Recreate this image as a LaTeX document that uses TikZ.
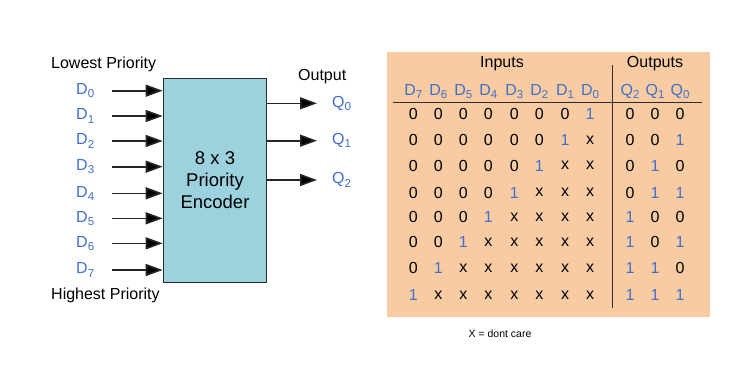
\documentclass[tikz,border=0pt]{standalone}
\usepackage{fontspec}
\setmainfont{Liberation Sans}
\usetikzlibrary{arrows.meta}
\definecolor{lblue}{RGB}{64,112,200}
\definecolor{boxfill}{RGB}{155,210,222}
\definecolor{tabfill}{RGB}{248,203,163}
\definecolor{lgray}{RGB}{45,45,45}
\newcommand\lsub[1]{\raisebox{-0.4ex}{\fontsize{11.5}{11}\selectfont #1}}
\begin{document}
\begin{tikzpicture}[x=1pt,y=-1pt,
  lab/.style={inner sep=0pt,font=\fontsize{16}{18}\selectfont},
  sig/.style={lab,text=lblue},
  arr/.style={line width=1.6pt,draw=black!85,-{Triangle[length=17pt,width=12pt,fill=black]}},
  cell/.style={inner sep=0pt,font=\fontsize{16}{18}\selectfont},
  cell0/.style={cell},
  cellx/.style={cell},
  cell1/.style={cell,text=lblue},
  hdr/.style={cell,text=lblue}]
\useasboundingbox (0,0) rectangle (744,369);
% encoder block
\node[draw=lgray,line width=1.3pt,fill=boxfill,minimum width=103.4pt,minimum height=204pt,inner sep=0pt,
  align=center,font=\fontsize{18.5}{22}\selectfont] (enc) at (215,180.3) {8 x 3\\Priority\\Encoder};
\node[lab,anchor=west] (low) at (51,64) {Lowest Priority};
\node[lab,anchor=west] (high) at (51,295) {Highest Priority};
\node[lab,anchor=west] (out) at (298,77) {Output};
\foreach \i/\y in {0/90.7,1/116,2/141,3/166.7,4/193.3,5/218.3,6/243.3,7/270}{
  \node[sig,anchor=west] (d\i) at (76,\y) {D\lsub{\i}};
  \coordinate (ds\i) at (112,\y);
  \draw[arr] (ds\i) -- (ds\i -| enc.west);
}
\foreach \i/\y in {0/103.3,1/140.7,2/180}{
  \node[sig,anchor=west] (q\i) at (332,\y) {Q\lsub{\i}};
  \coordinate (qe\i) at (317,\y);
  \draw[arr] (qe\i -| enc.east) -- (qe\i);
}
% truth table
\node[fill=tabfill,minimum width=323pt,minimum height=264pt,inner sep=0pt] (tab) at (548.5,184.5) {};
\node[cell] (inputs) at (502,64) {Inputs};
\node[cell] (outputs) at (655,64) {Outputs};
\foreach \n/\x in {7/413.3,6/438.3,5/463.3,4/488.3,3/514.3,2/539.3,1/565,0/590}{
  \node[hdr] (hd\n) at (\x,91.7) {D\lsub{\n}};
}
\foreach \n/\x in {2/630,1/655,0/680}{
  \node[hdr] (hq\n) at (\x,91.7) {Q\lsub{\n}};
}
\coordinate (hl) at (393,102.7);
\coordinate (hr) at (702,102.7);
\draw[lgray,line width=1.3pt] (hl) -- (hr);
\coordinate (vt) at (612.7,65);
\coordinate (vb) at (612.7,308.3);
\draw[lgray,line width=1.3pt] (vt) -- (vb);
\def\colxs{{413.3,438.3,463.3,488.3,514.3,539.3,565,590,630,655,680}}
\def\rowys{{113.5,140,165.5,192.5,217,242,268.3,295}}
\foreach \row [count=\r] in {
  {0,0,0,0,0,0,0,1,0,0,0},
  {0,0,0,0,0,0,1,x,0,0,1},
  {0,0,0,0,0,1,x,x,0,1,0},
  {0,0,0,0,1,x,x,x,0,1,1},
  {0,0,0,1,x,x,x,x,1,0,0},
  {0,0,1,x,x,x,x,x,1,0,1},
  {0,1,x,x,x,x,x,x,1,1,0},
  {1,x,x,x,x,x,x,x,1,1,1}}{
  \pgfmathsetmacro\yy{\rowys[\r-1]}
  \foreach \v [count=\c] in \row {
    \pgfmathsetmacro\xx{\colxs[\c-1]}
    \node[cell\v] (t-\r-\c) at (\xx,\yy) {\v};
  }
}
\node[inner sep=0pt,font=\fontsize{10.5}{11}\selectfont] (note) at (500,333.3) {X = dont care};
\end{tikzpicture}
\end{document}
